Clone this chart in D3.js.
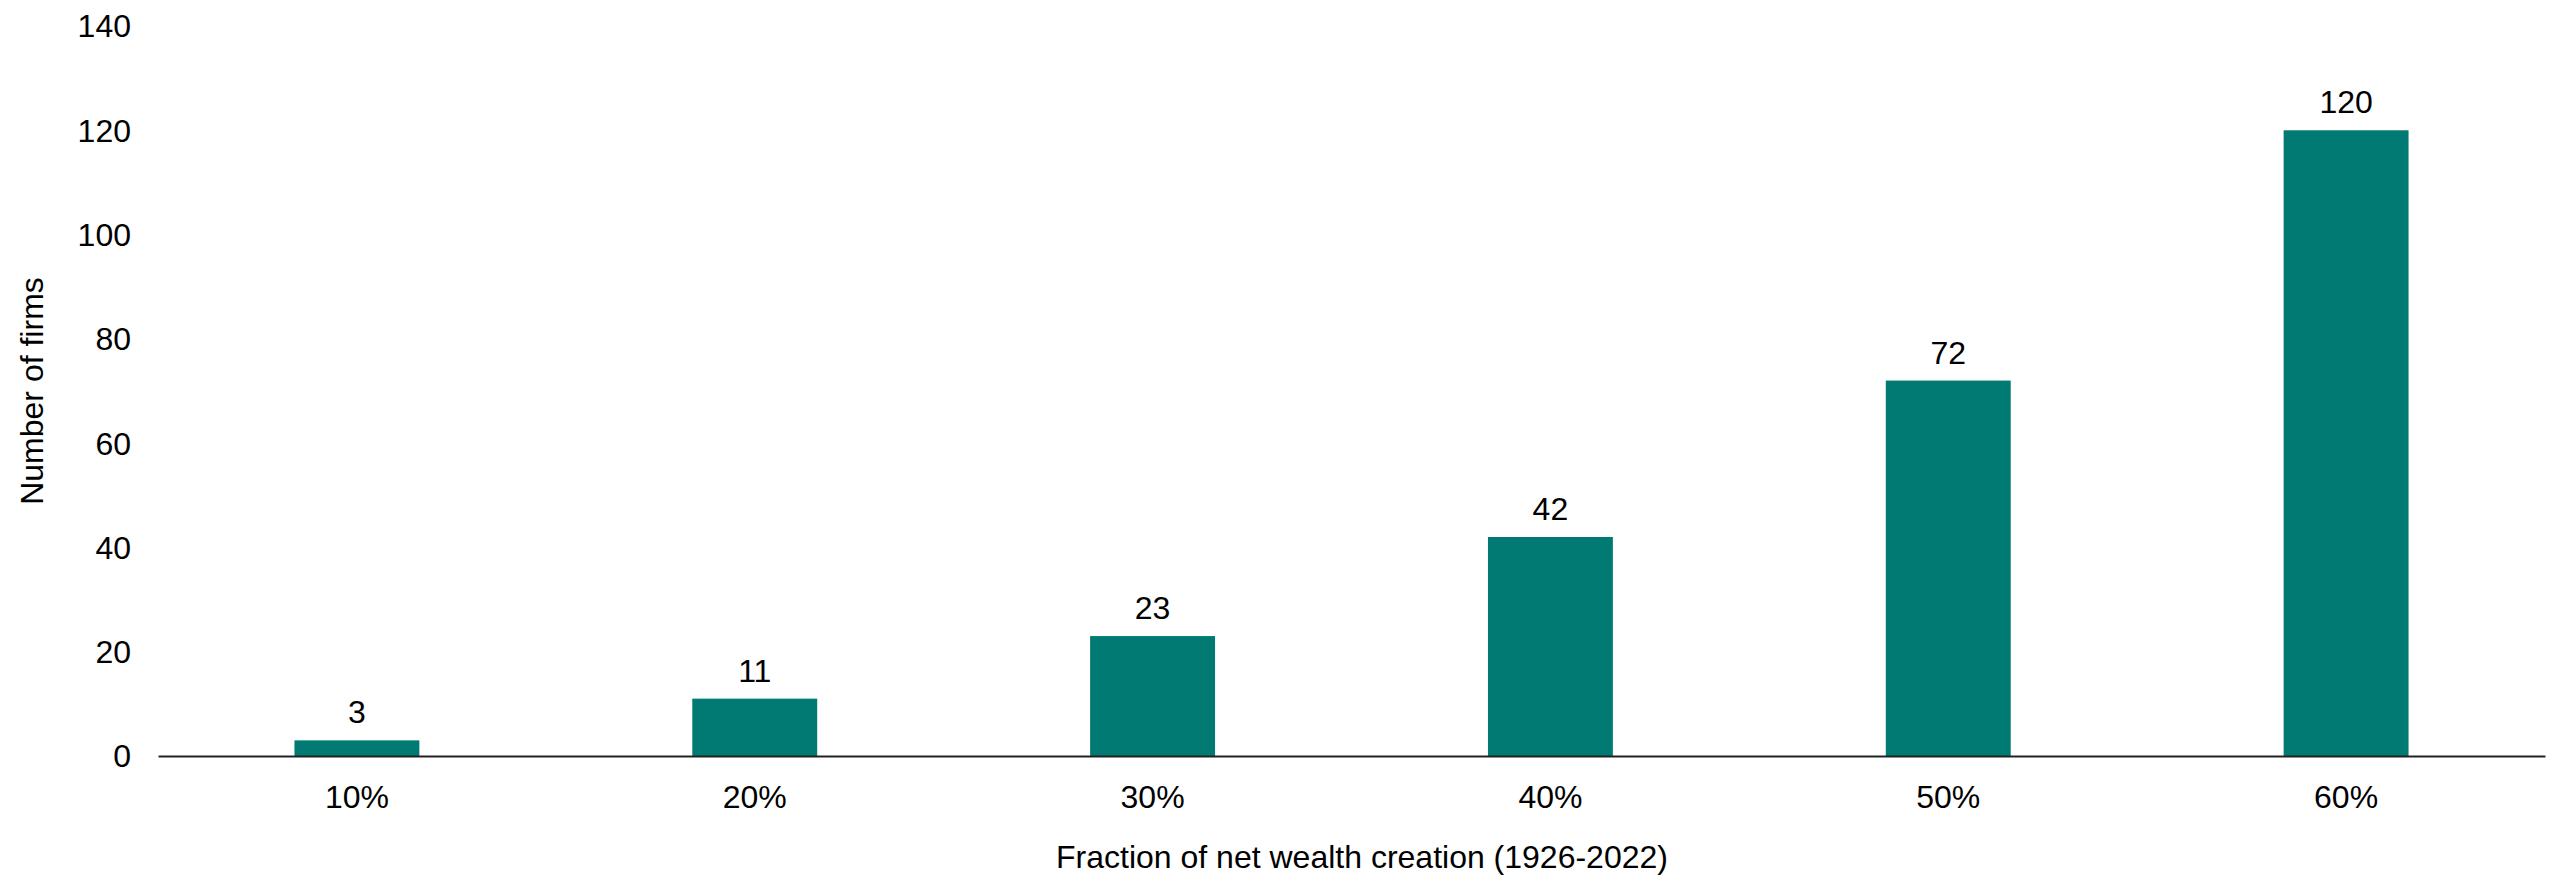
<!DOCTYPE html>
<html>

<head>
    <meta charset="utf-8" />
    <title>Number of firms by fraction of net wealth creation</title>
    <script src="https://cdn.jsdelivr.net/npm/d3@7"></script>

    <style type="text/css">
        body {
            margin: 0;
            background: #fff;
        }

        #chart text {
            font-family: "Liberation Sans", Arial, sans-serif;
            fill: #000;
        }

        #chart .bar {
            fill: #007a72;
        }
    </style>
</head>

<body>

    <div id="chart"></div>

    <script>
        // Data:
        var categories = ["10%", "20%", "30%", "40%", "50%", "60%"]
        var firms = [3, 11, 23, 42, 72, 120]
        var yTicks = [0, 20, 40, 60, 80, 100, 120, 140]

        var xTitle = "Fraction of net wealth creation (1926-2022)"
        var yTitle = "Number of firms"

        // Dimensions:
        var totalWidth = 2555,
            totalHeight = 875
        var margin = {
                top: 26,
                right: 10,
                bottom: 119,
                left: 158
            },
            width = totalWidth - margin.left - margin.right,
            height = totalHeight - margin.top - margin.bottom

        // Scales:
        var xScale = d3.scaleBand()
            .domain(categories)
            .range([0, width])
            .paddingInner(0.686)
            .paddingOuter(0.343)

        var yScale = d3.scaleLinear()
            .domain([0, 140])
            .range([height, 0])

        // Chart:
        var svg = d3.select("#chart")
            .append("svg")
            .attr("width", totalWidth)
            .attr("height", totalHeight)

        var chart = svg.append("g")
            .attr("transform", "translate(" + margin.left + ", " + margin.top + ")")

        // Bars:
        chart.selectAll(".bar")
            .data(firms)
            .enter()
            .append("rect")
            .attr("class", "bar")
            .attr("x", function(d, i) {
                return xScale(categories[i])
            })
            .attr("y", function(d) {
                return yScale(d)
            })
            .attr("width", xScale.bandwidth())
            .attr("height", function(d) {
                return height - yScale(d)
            })

        // Value labels:
        chart.selectAll(".value")
            .data(firms)
            .enter()
            .append("text")
            .attr("class", "value")
            .attr("x", function(d, i) {
                return xScale(categories[i]) + xScale.bandwidth() / 2
            })
            .attr("y", function(d) {
                return yScale(d) - 17
            })
            .attr("text-anchor", "middle")
            .style("font-size", "32px")
            .text(function(d) {
                return d
            })

        // Y axis (labels only):
        var yAxis = chart.append("g")
            .call(d3.axisLeft(yScale).tickValues(yTicks).tickSize(0).tickPadding(27))
        yAxis.select(".domain").remove()
        yAxis.selectAll("text")
            .style("font-size", "32px")
            .attr("dy", "0.34em")

        // X axis:
        var xAxis = chart.append("g")
            .attr("transform", "translate(0, " + height + ")")
            .call(d3.axisBottom(xScale).tickSize(0).tickPadding(29))
        xAxis.select(".domain")
            .attr("stroke", "#222")
            .attr("stroke-width", 2)
        xAxis.selectAll("text")
            .style("font-size", "32px")

        // Axis titles:
        svg.append("text")
            .attr("x", 1362)
            .attr("y", 868)
            .attr("text-anchor", "middle")
            .style("font-size", "32px")
            .text(xTitle)

        svg.append("text")
            .attr("transform", "translate(43, " + (margin.top + height / 2) + ") rotate(-90)")
            .attr("text-anchor", "middle")
            .style("font-size", "32px")
            .text(yTitle)
    </script>

</body>

</html>
